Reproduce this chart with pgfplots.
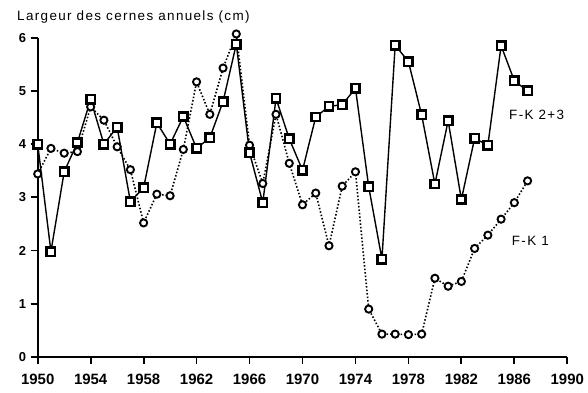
\documentclass[border=0pt]{standalone}
\usepackage{pgfplots}
\pgfplotsset{compat=1.18}
\usepackage{fontspec}
\setmainfont{Liberation Sans}
\newfontfamily\widefont[LetterSpace=10]{Liberation Sans}
\begin{document}
\begin{tikzpicture}
\useasboundingbox (-37.7bp,-36bp) rectangle (550.3bp,357bp);
\begin{axis}[
  scale only axis, width=529.6bp, height=319.3bp,
  xmin=1950, xmax=1990, ymin=0, ymax=6,
  axis x line=bottom, axis y line=left,
  axis line style={-, line width=2.3bp, black},
  xtick={1950,1954,...,1990}, ytick={0,1,...,6},
  tick align=outside, major tick length=7bp,
  tick style={line width=1.8bp, black},
  /pgf/number format/assume math mode=true,
  xticklabel style={font=\bfseries\fontsize{15}{15}\selectfont, /pgf/number format/1000 sep={}, yshift=-6.5bp},
  yticklabel style={font=\bfseries\fontsize{13}{13}\selectfont, xshift=-1bp},
  clip=false,
]
\addplot[black, line width=1.6bp, dash pattern=on 1.5bp off 2bp,
  mark=*, mark size=3.6bp, mark options={solid, fill=white, draw=black, line width=1.9bp}]
coordinates {
(1950,3.44)(1951,3.92)(1952,3.83)(1953,3.86)(1954,4.70)(1955,4.45)(1956,3.95)(1957,3.52)
(1958,2.52)(1959,3.06)(1960,3.03)(1961,3.90)(1962,5.17)(1963,4.56)(1964,5.43)(1965,6.07)
(1966,3.98)(1967,3.26)(1968,4.56)(1969,3.64)(1970,2.86)(1971,3.08)(1972,2.09)(1973,3.21)
(1974,3.48)(1975,0.90)(1976,0.43)(1977,0.43)(1978,0.42)(1979,0.43)(1980,1.48)(1981,1.33)
(1982,1.42)(1983,2.04)(1984,2.29)(1985,2.59)(1986,2.90)(1987,3.31)
};
\addplot[black, line width=1.4bp,
  mark=square*, mark size=4.2bp, mark options={solid, fill=white, draw=black, line width=2.5bp}]
coordinates {
(1950,4.00)(1951,1.98)(1952,3.48)(1953,4.03)(1954,4.84)(1955,4.00)(1956,4.32)(1957,2.92)
(1958,3.18)(1959,4.40)(1960,4.00)(1961,4.52)(1962,3.92)(1963,4.12)(1964,4.80)(1965,5.88)
(1966,3.84)(1967,2.90)(1968,4.86)(1969,4.10)(1970,3.51)(1971,4.51)(1972,4.71)(1973,4.74)
(1974,5.05)(1975,3.20)(1976,1.84)(1977,5.86)(1978,5.55)(1979,4.55)(1980,3.25)(1981,4.44)
(1982,2.96)(1983,4.11)(1984,3.98)(1985,5.85)(1986,5.19)(1987,5.00)
};
\node[anchor=base west, inner sep=0pt, font=\widefont\fontsize{13.5}{13.5}\selectfont] at (axis cs:1948.44,6.32) {Largeur des cernes annuels (cm)};
\node[anchor=west, inner sep=0pt, font=\widefont\fontsize{13.5}{13.5}\selectfont] at (axis cs:1985.6,4.55) {F-K 2+3};
\node[anchor=west, inner sep=0pt, font=\widefont\fontsize{13.5}{13.5}\selectfont] at (axis cs:1985.8,2.18) {F-K 1};
\end{axis}
\end{tikzpicture}
\end{document}
